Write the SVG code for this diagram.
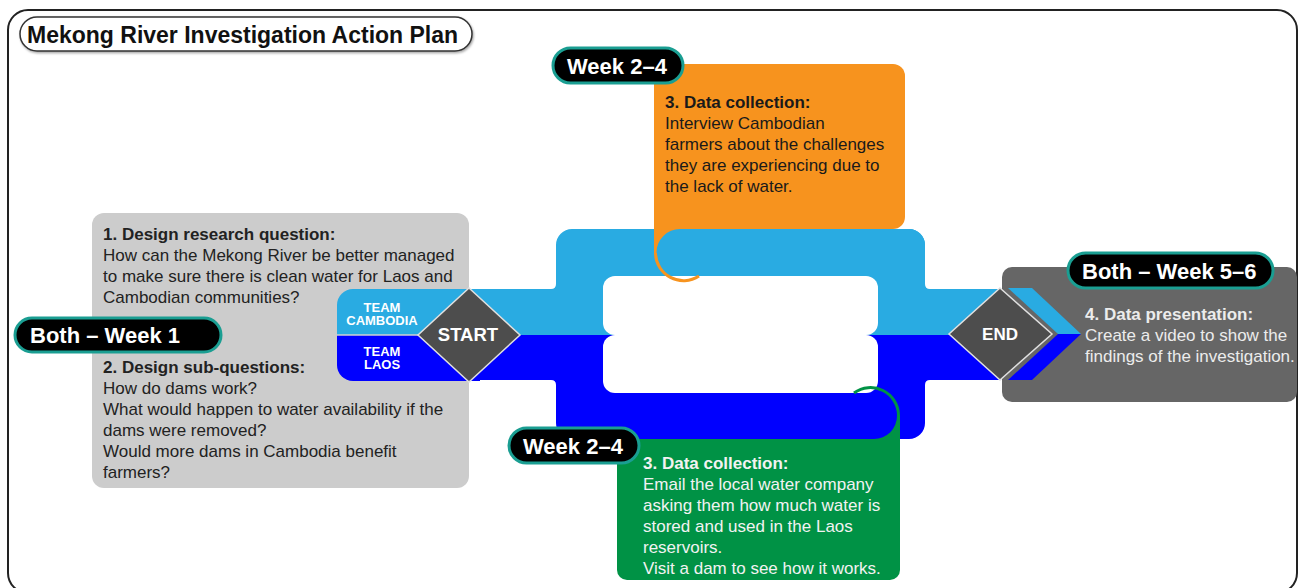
<svg xmlns="http://www.w3.org/2000/svg" width="1300" height="588" viewBox="0 0 1300 588">
<defs>
<filter id="sh" x="-10%" y="-30%" width="120%" height="160%">
<feDropShadow dx="1" dy="1.5" stdDeviation="1.2" flood-color="#000" flood-opacity="0.35"/>
</filter>
</defs>
<style>
text{font-family:"Liberation Sans",Arial,sans-serif}
.b{font-weight:bold}
.pill rect{fill:#000;stroke:#1a9e92;stroke-width:3}
.pill text{fill:#fff;font-weight:bold;font-size:22px}
.t1{fill:#222;font-size:17px}
.t2{fill:#1a1a1a;font-size:17px}
.t3{fill:#f2f2f2;font-size:17px}
.t4{fill:#ececec;font-size:17px}
.team{fill:#fff;font-weight:bold;font-size:13px;text-anchor:middle}
.lb{fill:#29abe2}
.bl{fill:#0000ff}
.dia{fill:#4d4d4d;stroke:#e0e0e0;stroke-width:1.5}
</style>

<rect x="8" y="10" width="1289" height="583" rx="20" fill="#fff" stroke="#222" stroke-width="2"/>

<g id="title">
<rect x="20" y="17" width="452" height="34" rx="17" fill="#fff" stroke="#333" stroke-width="1.5" filter="url(#sh)"/>
<text x="27" y="43" class="b" font-size="23" fill="#111">Mekong River Investigation Action Plan</text>
</g>

<g id="step1">
<rect x="92" y="213" width="377" height="275" rx="12" fill="#cccccc"/>
<text class="t1"><tspan x="103" y="240" class="b">1. Design research question:</tspan><tspan x="103" y="261">How can the Mekong River be better managed</tspan><tspan x="103" y="282">to make sure there is clean water for Laos and</tspan><tspan x="103" y="303">Cambodian communities?</tspan></text>
<text class="t1"><tspan x="103" y="373" class="b">2. Design sub-questions:</tspan><tspan x="103" y="394">How do dams work?</tspan><tspan x="103" y="415">What would happen to water availability if the</tspan><tspan x="103" y="436">dams were removed?</tspan><tspan x="103" y="457">Would more dams in Cambodia benefit</tspan><tspan x="103" y="478">farmers?</tspan></text>
</g>

<g id="step4">
<rect x="1002" y="267" width="295" height="135" rx="10" fill="#666666"/>
<text class="t4"><tspan x="1085" y="320" class="b">4. Data presentation:</tspan><tspan x="1085" y="341">Create a video to show the</tspan><tspan x="1085" y="362">findings of the investigation.</tspan></text>
</g>

<g id="connectors">
<path class="lb" d="M337,335 V305 A16,16 0 0 1 353,289 H480 V335 Z"/>
<path class="bl" d="M337,335 H480 V381 H353 A16,16 0 0 1 337,365 Z"/>
<line x1="337" y1="335" x2="430" y2="335" stroke="#d0d0d0" stroke-width="1.5"/>
<path class="lb" d="M469,289 H551 Q556,289 556,284 V245 A16,16 0 0 1 572,229 H909 A16,16 0 0 1 925,245 V284 Q925,289 930,289 H1000 V335 H469 Z"/>
<path class="bl" d="M469,335 H1000 V380 H930 Q925,380 925,385 V423 A16,16 0 0 1 909,439 H572 A16,16 0 0 1 556,423 V385 Q556,380 551,380 H469 Z"/>
<rect x="603" y="276" width="275" height="59" rx="12" fill="#fff"/>
<rect x="603" y="335" width="275" height="58" rx="12" fill="#fff"/>
</g>

<g id="step3a">
<rect x="654" y="64" width="251" height="165" rx="12" fill="#f7931e"/>
<rect x="654" y="200" width="30" height="53" fill="#f7931e"/>
<path class="lb" d="M680,229 H909 A16,16 0 0 1 925,245 V276 H680 A23.5,23.5 0 0 1 680,229 Z"/>
<path d="M655.5,253 A28,28 0 0 0 699,276" fill="none" stroke="#f7931e" stroke-width="3"/>
<text class="t2"><tspan x="665" y="108" class="b">3. Data collection:</tspan><tspan x="665" y="129">Interview Cambodian</tspan><tspan x="665" y="150">farmers about the challenges</tspan><tspan x="665" y="171">they are experiencing due to</tspan><tspan x="665" y="192">the lack of water.</tspan></text>
</g>

<g id="step3b">
<rect x="617" y="437" width="283" height="143" rx="10" fill="#009245"/>
<rect x="880" y="415" width="20" height="40" fill="#009245"/>
<path class="bl" d="M603,393 H874 A23,23 0 0 1 874,439 H603 Z"/>
<path d="M854,393 A28,28 0 0 1 898.5,415" fill="none" stroke="#009245" stroke-width="3"/>
<text class="t3"><tspan x="643" y="469" class="b">3. Data collection:</tspan><tspan x="643" y="490">Email the local water company</tspan><tspan x="643" y="511">asking them how much water is</tspan><tspan x="643" y="532">stored and used in the Laos</tspan><tspan x="643" y="553">reservoirs.</tspan><tspan x="643" y="574">Visit a dam to see how it works.</tspan></text>
</g>

<g id="team-labels">
<text class="team"><tspan x="382" y="312">TEAM</tspan><tspan x="382" y="325">CAMBODIA</tspan></text>
<text class="team"><tspan x="382" y="356">TEAM</tspan><tspan x="382" y="369">LAOS</tspan></text>
</g>

<g id="start">
<polygon class="dia" points="469,288 520,335 469,382 418,335"/>
<text x="468" y="341" text-anchor="middle" class="b" font-size="18.5" fill="#fff">START</text>
</g>

<g id="end">
<polygon class="lb" points="1008,288 1032,288 1081,334 1058,334"/>
<polygon class="bl" points="1058,334 1081,334 1032,380 1008,380"/>
<polygon class="dia" points="1000,288 1052,334 1000,380 949,334"/>
<text x="1000" y="340" text-anchor="middle" class="b" font-size="17" fill="#fff">END</text>
</g>

<g id="pill-week1" class="pill">
<rect x="15" y="318" width="206" height="34" rx="17"/>
<text x="30" y="343">Both – Week 1</text>
</g>

<g id="pill-week24a" class="pill">
<rect x="553" y="48" width="130" height="35" rx="17.5"/>
<text x="567" y="74">Week 2–4</text>
</g>

<g id="pill-week24b" class="pill">
<rect x="509" y="428" width="130" height="35" rx="17.5"/>
<text x="523" y="454">Week 2–4</text>
</g>

<g id="pill-week56" class="pill">
<rect x="1068" y="253" width="205" height="35" rx="17.5"/>
<text x="1082" y="279">Both – Week 5–6</text>
</g>
</svg>
